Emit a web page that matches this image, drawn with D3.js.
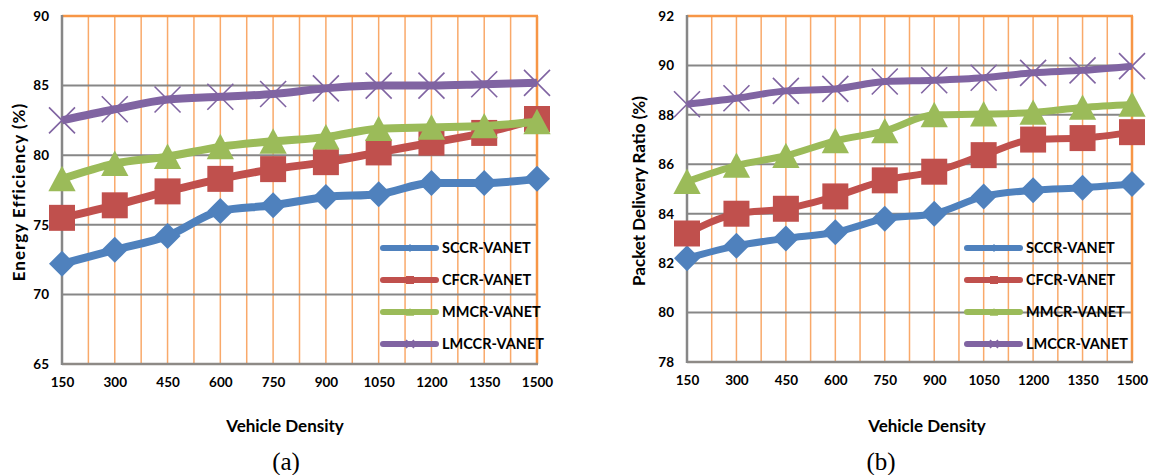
<!DOCTYPE html>
<html>
<head>
<meta charset="utf-8">
<script src="https://cdn.jsdelivr.net/npm/d3@7"></script>
<style>
body { margin: 0; background: #fff; }
text { font-family: Lato, "Open Sans", sans-serif; font-weight: bold; fill: #000; }
text.caption { font-family: "Liberation Serif", "DejaVu Serif", serif; font-weight: normal; font-size: 25px; }
</style>
</head>
<body>
<div id="chart"></div>
<script>
var w = 1153;
var h = 475;

// x categories (vehicle density)
var density = [150, 300, 450, 600, 750, 900, 1050, 1200, 1350, 1500];

var seriesNames = ["SCCR-VANET", "CFCR-VANET", "MMCR-VANET", "LMCCR-VANET"];
var seriesColors = ["#4F81BD", "#C0504D", "#9BBB59", "#8064A2"];
var seriesMarkers = ["diamond", "square", "triangle", "cross"];

// (a) energy efficiency (%)
var effSCCR  = [72.2, 73.2, 74.2, 76.0, 76.4, 77.0, 77.2, 78.0, 78.0, 78.3];
var effCFCR  = [75.5, 76.4, 77.4, 78.3, 79.0, 79.5, 80.2, 80.9, 81.6, 82.6];
var effMMCR  = [78.3, 79.4, 79.9, 80.6, 81.0, 81.3, 81.9, 82.0, 82.1, 82.4];
var effLMCCR = [82.5, 83.3, 84.0, 84.2, 84.4, 84.8, 85.0, 85.0, 85.1, 85.2];
var effTicks = [65, 70, 75, 80, 85, 90];

// (b) packet delivery ratio (%)
var pdrSCCR  = [82.2, 82.7, 83.0, 83.25, 83.8, 84.0, 84.7, 84.95, 85.05, 85.2];
var pdrCFCR  = [83.2, 84.0, 84.2, 84.7, 85.35, 85.7, 86.37, 87.0, 87.06, 87.3];
var pdrMMCR  = [85.3, 85.95, 86.35, 86.95, 87.35, 88.0, 88.03, 88.1, 88.3, 88.42];
var pdrLMCCR = [88.43, 88.67, 88.97, 89.05, 89.35, 89.4, 89.5, 89.7, 89.8, 89.97];
var pdrTicks = [78, 80, 82, 84, 86, 88, 90, 92];

var gridGray = "#878787";
var gridOrange = "#F9A96A";
var borderOrange = "#F79646";

function 
markerPath(type, s) 
{
  if (type == "diamond") {
    return "M0," + (-s) + "L" + s + ",0L0," + s + "L" + (-s) + ",0Z";
  }
  if (type == "square") {
    return "M" + (-s) + "," + (-s) + "H" + s + "V" + s + "H" + (-s) + "Z";
  }
  if (type == "triangle") {
    return "M0," + (-s) + "L" + (s * 1.05) + "," + (s * 0.95) + "L" + (-s * 1.05) + "," + (s * 0.95) + "Z";
  }
  return "M" + (-s) + "," + (-s) + "L" + s + "," + s + "M" + s + "," + (-s) + "L" + (-s) + "," + s;
}

function 
drawMarker(g, type, color, s) 
{
  var p = g.append("path").attr("d", markerPath(type, s));
  if (type == "cross") {
    p.attr("fill", "none").attr("stroke", color).attr("stroke-width", 1.6);
  } else {
    p.attr("fill", color);
  }
}

function 
drawPanel(svg, opt) 
{
  var x = d3.scalePoint()
    .domain(density)
    .range([opt.left, opt.right]);

  var y = d3.scaleLinear()
    .domain([opt.ticks[0], opt.ticks[opt.ticks.length - 1]])
    .range([opt.bottom, opt.top]);

  var g = svg.append("g");

  // vertical orange gridlines, at every category and half way between
  var vlines = density.slice(1).map(function(d) { return x(d); });
  d3.pairs(density).forEach(function(p) {
    vlines.push((x(p[0]) + x(p[1])) / 2);
  });
  g.selectAll("line.v")
    .data(vlines)
   .enter()
    .append("line")
    .attr("class", "v")
    .attr("x1", function(d) { return d; })
    .attr("x2", function(d) { return d; })
    .attr("y1", opt.top)
    .attr("y2", opt.bottom)
    .attr("stroke", gridOrange)
    .attr("stroke-width", 1.5);

  // horizontal gray gridlines
  g.selectAll("line.hz")
    .data(opt.ticks.slice(1, -1))
   .enter()
    .append("line")
    .attr("class", "hz")
    .attr("x1", opt.left)
    .attr("x2", opt.right)
    .attr("y1", function(d) { return y(d); })
    .attr("y2", function(d) { return y(d); })
    .attr("stroke", gridGray)
    .attr("stroke-width", 2);

  // frame: top and right orange, axes gray
  g.append("line").attr("x1", opt.left).attr("x2", opt.right + 1)
    .attr("y1", opt.top).attr("y2", opt.top)
    .attr("stroke", borderOrange).attr("stroke-width", 2.5);
  g.append("line").attr("x1", opt.right).attr("x2", opt.right)
    .attr("y1", opt.top).attr("y2", opt.bottom)
    .attr("stroke", borderOrange).attr("stroke-width", 2.5);
  g.append("line").attr("x1", opt.left).attr("x2", opt.right + 1)
    .attr("y1", opt.bottom).attr("y2", opt.bottom)
    .attr("stroke", "#8E8A86").attr("stroke-width", 2.5);
  g.append("line").attr("x1", opt.left).attr("x2", opt.left)
    .attr("y1", opt.top - 1).attr("y2", opt.bottom + 1)
    .attr("stroke", gridGray).attr("stroke-width", 2.5);

  // axes (labels only)
  var yAxis = d3.axisLeft(y).tickValues(opt.ticks).tickSize(0).tickPadding(13);
  var ya = svg.append("g")
    .attr("transform", "translate(" + opt.left + ",0)")
    .call(yAxis);
  ya.select(".domain").remove();
  ya.selectAll("text").style("font-size", "13.5px").style("font-family", null);

  var xAxis = d3.axisBottom(x).tickSize(0).tickPadding(13);
  var xa = svg.append("g")
    .attr("transform", "translate(0," + opt.bottom + ")")
    .call(xAxis);
  xa.select(".domain").remove();
  xa.selectAll("text").style("font-size", "13.5px").style("font-family", null);

  // series
  var line = d3.line()
    .x(function(d, i) { return x(density[i]); })
    .y(function(d) { return y(d); })
    .curve(d3.curveMonotoneX);

  opt.values.forEach(function(vals, k) {
    var sg = svg.append("g");
    sg.append("path")
      .attr("d", line(vals))
      .attr("fill", "none")
      .attr("stroke", seriesColors[k])
      .attr("stroke-width", opt.lineWidth)
      .attr("stroke-linejoin", "round");
    vals.forEach(function(v, i) {
      var mg = sg.append("g")
        .attr("transform", "translate(" + x(density[i]) + "," + y(v) + ")");
      drawMarker(mg, seriesMarkers[k], seriesColors[k], 13);
    });
  });

  // legend
  var lg = svg.append("g")
    .attr("transform", "translate(" + opt.legendX + "," + opt.legendY + ")");
  seriesNames.forEach(function(name, k) {
    var row = lg.append("g")
      .attr("transform", "translate(0," + (k * 32) + ")");
    row.append("line")
      .attr("x1", 0).attr("x2", 53)
      .attr("stroke", seriesColors[k])
      .attr("stroke-width", 6)
      .attr("stroke-linecap", "round");
    var mg = row.append("g").attr("transform", "translate(27,0)");
    drawMarker(mg, seriesMarkers[k], seriesColors[k], 4);
    row.append("text")
      .attr("x", 59)
      .attr("dy", "0.36em")
      .style("font-size", "14.5px")
      .text(name);
  });

  // titles
  svg.append("text")
    .attr("transform", "translate(" + opt.yTitleX + "," + ((opt.top + opt.bottom) / 2 + 2) + ") rotate(-90)")
    .attr("text-anchor", "middle")
    .style("font-size", "17px")
    .style("letter-spacing", opt.yTitleSpacing)
    .text(opt.yTitle);

  svg.append("text")
    .attr("x", opt.xTitleX)
    .attr("y", 432)
    .attr("text-anchor", "middle")
    .style("font-size", "17px")
    .text("Vehicle Density");

  svg.append("text")
    .attr("class", "caption")
    .attr("x", opt.captionX)
    .attr("y", 470)
    .attr("text-anchor", "middle")
    .text(opt.caption);
}

function 
initializeCharts() 
{
  var svg = d3.select("#chart")
    .append("svg")
    .attr("width", w)
    .attr("height", h);

  drawPanel(svg, {
    left: 62, right: 537, top: 16, bottom: 364,
    ticks: effTicks,
    values: [effSCCR, effCFCR, effMMCR, effLMCCR],
    lineWidth: 8,
    yTitle: "Energy Efficiency (%)",
    yTitleX: 25,
    yTitleSpacing: "1px",
    xTitleX: 285,
    legendX: 383, legendY: 248,
    caption: "(a)",
    captionX: 286
  });

  drawPanel(svg, {
    left: 687, right: 1132, top: 16, bottom: 362,
    ticks: pdrTicks,
    values: [pdrSCCR, pdrCFCR, pdrMMCR, pdrLMCCR],
    lineWidth: 7,
    yTitle: "Packet Delivery Ratio (%)",
    yTitleX: 645,
    yTitleSpacing: "0px",
    xTitleX: 927,
    legendX: 967, legendY: 248,
    caption: "(b)",
    captionX: 881
  });
}

initializeCharts();
</script>
</body>
</html>
